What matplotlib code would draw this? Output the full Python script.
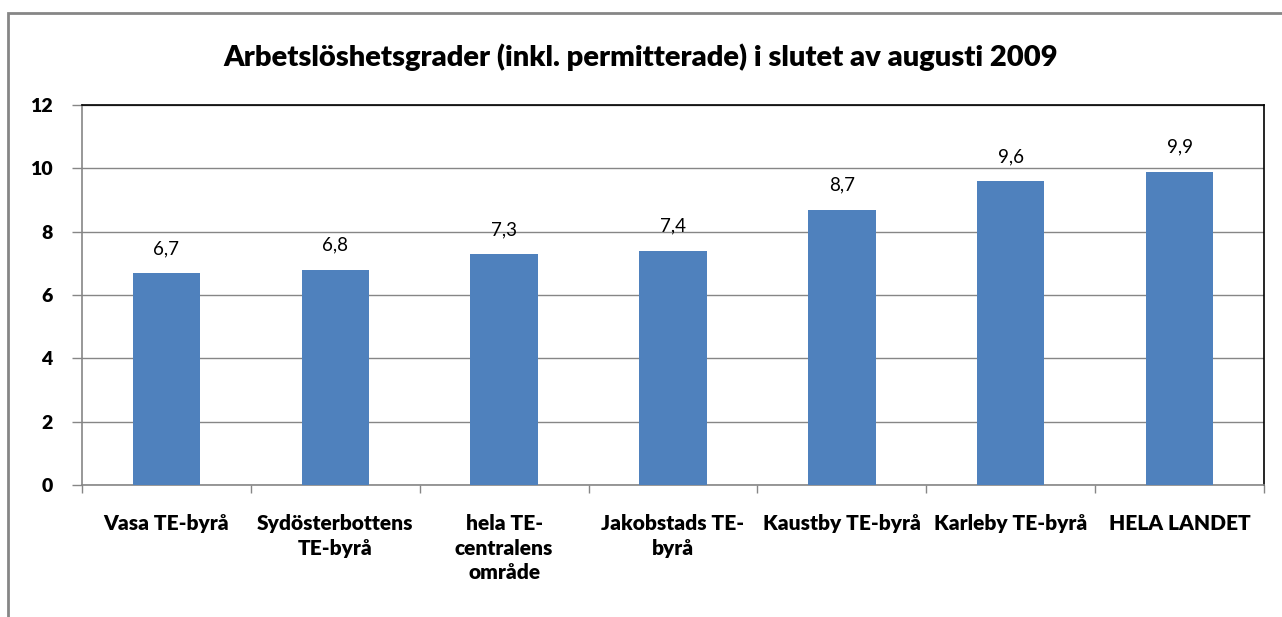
import matplotlib
matplotlib.use("Agg")
import matplotlib.pyplot as plt
from matplotlib.patches import Rectangle

categories = ["Vasa TE-byrå", "Sydösterbottens\nTE-byrå", "hela TE-\ncentralens\nområde",
              "Jakobstads TE-\nbyrå", "Kaustby TE-byrå", "Karleby TE-byrå", "HELA LANDET"]
values = [6.7, 6.8, 7.3, 7.4, 8.7, 9.6, 9.9]
value_labels = ["6,7", "6,8", "7,3", "7,4", "8,7", "9,6", "9,9"]
yticks = [0, 2, 4, 6, 8, 10, 12]

plt.rcParams['font.family'] = ['Lato', 'DejaVu Sans']

W, H = 1282, 617
fig = plt.figure(figsize=(W / 100, H / 100), dpi=100)
ax = fig.add_axes([82 / W, 1 - 485 / H, (1264 - 82) / W, (485 - 105) / H])

# outer chart frame (runs off the right/bottom of the image)
fig.patches.append(Rectangle((8 / W, -0.1), 1.2, 1 - 13 / H + 0.1, transform=fig.transFigure,
                             fill=False, edgecolor='#868686', linewidth=2))

x = range(len(values))
ax.bar(x, values, width=0.4, color='#4F81BD', zorder=3)
for i, (v, lab) in enumerate(zip(values, value_labels)):
    ax.text(i, v + 0.5, lab, ha='center', va='bottom', fontsize=13.5)

ax.set_xlim(-0.5, len(values) - 0.5)
ax.set_ylim(0, 12)
ax.set_yticks(yticks)
ax.set_yticklabels([str(t) for t in yticks], fontweight='heavy', fontsize=14)
ax.yaxis.grid(True, color='#868686', linewidth=1, zorder=0)

ax.set_xticks(list(x))
ax.set_xticklabels(categories, fontweight='heavy', fontsize=15, linespacing=1.35)
ax.tick_params(axis='x', length=0, pad=21)
ax.set_xticks([i - 0.5 for i in range(len(values) + 1)], minor=True)
ax.tick_params(axis='x', which='minor', length=6, color='#868686', width=1)
ax.tick_params(axis='y', length=7, color='#868686', width=1, pad=14)

for s in ['left', 'bottom']:
    ax.spines[s].set_color('#868686')
    ax.spines[s].set_linewidth(1.2)
for s in ['top', 'right']:
    ax.spines[s].set_color('black')
    ax.spines[s].set_linewidth(1.2)

fig.text(641 / W, 1 - 57 / H, "Arbetslöshetsgrader (inkl. permitterade) i slutet av augusti 2009",
         ha='center', va='center', fontsize=21, fontweight='heavy')

fig.savefig("out.png", dpi=100)
